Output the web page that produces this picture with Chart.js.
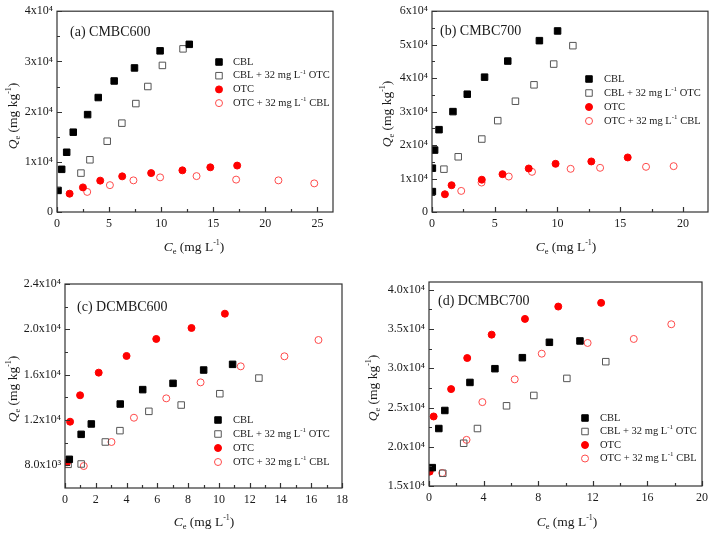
<!DOCTYPE html>
<html><head><meta charset="utf-8">
<script src="https://cdn.jsdelivr.net/npm/chart.js@4.4.1/dist/chart.umd.min.js"></script>
<style>
html,body{margin:0;padding:0;background:#fff;}
body{width:713px;height:534px;position:relative;overflow:hidden;font-family:"Liberation Serif","Times New Roman",serif;color:#1a1a1a;}
canvas{position:absolute;}
.t{position:absolute;font-size:13.5px;white-space:nowrap;line-height:1;}
.yt{transform:translate(-50%,-50%) rotate(-90deg);}
.xt{transform:translate(-50%,-50%);}
.pl{transform:translate(0,-50%);font-size:14px;}
sup{font-size:8px;vertical-align:6px;line-height:0;}
sub{font-size:8.5px;vertical-align:-3px;line-height:0;}
</style>
</head><body>
<canvas id="ca" width="356" height="267" style="left:0;top:0;width:356px;height:267px"></canvas>
<canvas id="cb" width="357" height="267" style="left:356px;top:0;width:357px;height:267px"></canvas>
<canvas id="cc" width="356" height="267" style="left:0;top:267px;width:356px;height:267px"></canvas>
<canvas id="cd" width="357" height="267" style="left:356px;top:267px;width:357px;height:267px"></canvas>

<div class="t pl" style="left:70px;top:32px">(a) CMBC600</div>
<div class="t pl" style="left:440px;top:31px">(b) CMBC700</div>
<div class="t pl" style="left:77px;top:307px">(c) DCMBC600</div>
<div class="t pl" style="left:438px;top:301px">(d) DCMBC700</div>

<div class="t yt" style="left:13px;top:116px"><i>Q</i><sub>e</sub> (mg kg<sup>-1</sup>)</div>
<div class="t yt" style="left:387px;top:114px"><i>Q</i><sub>e</sub> (mg kg<sup>-1</sup>)</div>
<div class="t yt" style="left:13px;top:389px"><i>Q</i><sub>e</sub> (mg kg<sup>-1</sup>)</div>
<div class="t yt" style="left:373px;top:388px"><i>Q</i><sub>e</sub> (mg kg<sup>-1</sup>)</div>

<div class="t xt" style="left:194px;top:247px"><i>C</i><sub>e</sub> (mg L<sup>-1</sup>)</div>
<div class="t xt" style="left:566px;top:247px"><i>C</i><sub>e</sub> (mg L<sup>-1</sup>)</div>
<div class="t xt" style="left:204px;top:522px"><i>C</i><sub>e</sub> (mg L<sup>-1</sup>)</div>
<div class="t xt" style="left:567px;top:522px"><i>C</i><sub>e</sub> (mg L<sup>-1</sup>)</div>

<script>
// ---------- series labels ----------
const seriesLabels = ['CBL', 'CBL + 32 mg L^{-1} OTC', 'OTC', 'OTC + 32 mg L^{-1} CBL'];

// ---------- (a) CMBC600 : [Ce, Qe] ----------
const aCBL = [[0.1,4300],[0.45,8500],[0.93,11900],[1.56,15900],[2.94,19400],[3.96,22800],[5.49,26100],[7.44,28700],[9.9,32100],[12.7,33400]];
const aCBLOTC = [[2.3,7750],[3.16,10400],[4.82,14100],[6.23,17700],[7.57,21600],[8.72,25000],[10.12,29200],[12.1,32500]];
const aOTC = [[1.21,3650],[2.49,4900],[4.15,6250],[6.26,7100],[9.04,7750],[12.04,8300],[14.72,8900],[17.3,9250]];
const aOTCCBL = [[2.9,4000],[5.08,5350],[7.34,6300],[9.9,6900],[13.4,7150],[17.2,6450],[21.26,6300],[24.7,5700]];
const aXTicks = [0,5,10,15,20,25];
const aYTicks = [0,10000,20000,30000,40000];
const aYTickLabels = ['0','1x10\u2074','2x10\u2074','3x10\u2074','4x10\u2074'];

// ---------- (b) CMBC700 ----------
const bCBL = [[0.03,6100],[0.03,13100],[0.21,18500],[0.56,24600],[1.67,30000],[2.81,35200],[4.19,40300],[6.04,45100],[8.56,51200],[10.01,54100]];
const bCBLOTC = [[0.95,12800],[2.09,16500],[3.97,21800],[5.24,27300],[6.65,33100],[8.13,38000],[9.7,44200],[11.23,49700]];
const bOTC = [[1.03,5300],[1.56,8000],[3.97,9650],[5.62,11300],[7.71,13000],[9.85,14400],[12.7,15100],[15.6,16300]];
const bOTCCBL = [[2.33,6300],[3.95,8800],[6.12,10600],[7.97,12000],[11.05,12900],[13.4,13200],[17.06,13500],[19.26,13700]];
const bXTicks = [0,5,10,15,20];
const bYTicks = [0,10000,20000,30000,40000,50000,60000];
const bYTickLabels = ['0','1x10\u2074','2x10\u2074','3x10\u2074','4x10\u2074','5x10\u2074','6x10\u2074'];

// ---------- (c) DCMBC600 ----------
const cCBL = [[0.28,8530],[1.05,10735],[1.71,11650],[3.59,13410],[5.05,14680],[7.02,15235],[9.01,16410],[10.89,16910]];
const cCBLOTC = [[0.2,8090],[1.05,8120],[2.62,10060],[3.57,11060],[5.45,12765],[7.55,13320],[10.06,14320],[12.6,15700]];
const cOTC = [[0.13,8265],[0.33,11850],[0.98,14180],[2.19,16180],[4.0,17650],[5.93,19150],[8.22,20120],[10.39,21380]];
const cOTCCBL = [[1.22,7940],[3.02,10060],[4.48,12200],[6.58,13910],[8.81,15320],[11.42,16735],[14.26,17620],[16.47,19060]];
const cXTicks = [0,2,4,6,8,10,12,14,16,18];
const cYTicks = [8000,12000,16000,20000,24000];
const cYTickLabels = ['8.0x10\u00b3','1.2x10\u2074','1.6x10\u2074','2.0x10\u2074','2.4x10\u2074'];

// ---------- (d) DCMBC700 ----------
const dCBL = [[0.24,17340],[0.72,22325],[1.16,24625],[3.0,28200],[4.83,29950],[6.84,31355],[8.82,33315],[11.06,33485]];
const dCBLOTC = [[1.01,16620],[2.54,20450],[3.55,22325],[5.68,25220],[7.68,26540],[10.1,28715],[12.95,30845]];
const dOTC = [[0.05,16830],[0.34,23860],[1.62,27350],[2.8,31310],[4.59,34290],[7.03,36295],[9.47,37870],[12.61,38340]];
const dOTCCBL = [[0.97,16660],[2.75,20880],[3.91,25690],[6.28,28590],[8.26,31865],[11.62,33230],[15.0,33740],[17.75,35615]];
const dXTicks = [0,4,8,12,16,20];
const dYTicks = [15000,20000,25000,30000,35000,40000];
const dYTickLabels = ['1.5x10\u2074','2.0x10\u2074','2.5x10\u2074','3.0x10\u2074','3.5x10\u2074','4.0x10\u2074'];

// ---------- styles ----------
const styles = [
  {pointStyle:'rect', backgroundColor:'#000', borderColor:'#000', borderWidth:1, radius:4.6},
  {pointStyle:'rect', backgroundColor:'rgba(0,0,0,0)', borderColor:'#555', borderWidth:1, radius:4.6},
  {pointStyle:'circle', backgroundColor:'#ff0000', borderColor:'#ff0000', borderWidth:1, radius:3.5},
  {pointStyle:'circle', backgroundColor:'rgba(0,0,0,0)', borderColor:'#ff4a4a', borderWidth:1, radius:3.5}
];
const FONT = '"Liberation Serif","Times New Roman",serif';

function drawMarker(ctx, st, x, y){
  ctx.save();
  ctx.lineWidth = st.borderWidth;
  ctx.strokeStyle = st.borderColor;
  ctx.fillStyle = st.backgroundColor;
  ctx.beginPath();
  if (st.pointStyle === 'rect') {
    const s = st.radius * Math.SQRT1_2;
    ctx.rect(x - s, y - s, 2*s, 2*s);
  } else {
    ctx.arc(x, y, st.radius, 0, Math.PI*2);
  }
  ctx.fill(); ctx.stroke();
  ctx.restore();
}
function drawRich(ctx, text, x, y, size){
  const parts = text.split(/\^\{([^}]*)\}/);
  let cx = x;
  parts.forEach((p, i) => {
    if (!p) return;
    const sup = i % 2 === 1;
    ctx.font = (sup ? Math.round(size*0.62) : size) + 'px ' + FONT;
    ctx.fillText(p, cx, sup ? y - size*0.38 : y);
    cx += ctx.measureText(p).width;
  });
}
function midpoints(ticks, min, max){
  const out = [];
  const step = ticks[1] - ticks[0];
  const vals = [ticks[0] - step/2, ...ticks.map(v => v + step/2)];
  vals.forEach(v => { if (v > min + 1e-9 && v < max - 1e-9) out.push(v); });
  return out;
}

const framePlugin = {
  id: 'frame',
  afterDraw(chart, args, o) {
    const {ctx, chartArea: a, scales} = chart;
    ctx.save();
    ctx.strokeStyle = '#333';
    ctx.lineWidth = 1.2;
    ctx.beginPath();
    o.xTicks.forEach(v => { const px = Math.round(scales.x.getPixelForValue(v)) + 0.5; ctx.moveTo(px, a.bottom); ctx.lineTo(px, a.bottom - 5); });
    midpoints(o.xTicks, scales.x.min, scales.x.max).forEach(v => { const px = Math.round(scales.x.getPixelForValue(v)) + 0.5; ctx.moveTo(px, a.bottom); ctx.lineTo(px, a.bottom - 3); });
    o.yTicks.forEach(v => { const py = Math.round(scales.y.getPixelForValue(v)) + 0.5; ctx.moveTo(a.left, py); ctx.lineTo(a.left + 5, py); });
    midpoints(o.yTicks, scales.y.min, scales.y.max).forEach(v => { const py = Math.round(scales.y.getPixelForValue(v)) + 0.5; ctx.moveTo(a.left, py); ctx.lineTo(a.left + 3, py); });
    ctx.stroke();
    ctx.strokeRect(a.left, a.top, a.right - a.left, a.bottom - a.top);
    const L = o.legend;
    ctx.textBaseline = 'middle';
    ctx.textAlign = 'left';
    chart.data.datasets.forEach((ds, i) => {
      const y = L.y + i * L.dy;
      drawMarker(ctx, styles[i], L.mx, y);
      ctx.fillStyle = '#1a1a1a';
      drawRich(ctx, ds.label, L.tx, y, 10.5);
    });
    ctx.restore();
  }
};

function makePanel(id, cv, area, xr, yr, xTicks, yTicks, yLabels, series, legend){
  const w = cv.w, h = cv.h;
  const datasets = series.map((s, i) => ({
    label: seriesLabels[i],
    data: s.map(p => ({x: p[0], y: p[1]})),
    pointStyle: styles[i].pointStyle,
    pointRadius: styles[i].radius,
    pointHoverRadius: styles[i].radius,
    backgroundColor: styles[i].backgroundColor,
    borderColor: styles[i].borderColor,
    pointBorderWidth: styles[i].borderWidth,
    showLine: false,
    clip: 0
  }));
  new Chart(document.getElementById(id), {
    type: 'scatter',
    data: {datasets},
    options: {
      responsive: false, animation: false, devicePixelRatio: 1,
      events: [],
      layout: {autoPadding: false, padding: {left: 0, bottom: 0, top: area.top - cv.y, right: w - (area.right - cv.x)}},
      plugins: {legend: {display: false}, tooltip: {enabled: false},
        frame: {xTicks, yTicks, legend: {mx: legend.mx - cv.x, tx: legend.tx - cv.x, y: legend.y - cv.y, dy: legend.dy}}},
      scales: {
        x: {type: 'linear', min: xr[0], max: xr[1],
          grid: {display: false, drawTicks: false}, border: {display: false},
          afterBuildTicks: s => { s.ticks = xTicks.map(v => ({value: v})); },
          afterFit: s => { s.height = h - (area.bottom - cv.y); },
          ticks: {padding: 5, color: '#1a1a1a', font: {family: FONT, size: 12}, maxRotation: 0, autoSkip: false,
                  callback: v => String(v)}},
        y: {type: 'linear', min: yr[0], max: yr[1],
          grid: {display: false, drawTicks: false}, border: {display: false},
          afterBuildTicks: s => { s.ticks = yTicks.map(v => ({value: v})); },
          afterFit: s => { s.width = area.left - cv.x; },
          ticks: {padding: 4, color: '#1a1a1a', font: {family: FONT, size: 12}, autoSkip: false,
                  callback: v => yLabels[yTicks.indexOf(v)]}}
      }
    },
    plugins: [framePlugin]
  });
}

makePanel('ca', {x:0, y:0, w:356, h:267}, {left:57, top:7, right:333, bottom:212},
  [0, 26.5], [0, 40000], aXTicks, aYTicks, aYTickLabels,
  [aCBL, aCBLOTC, aOTC, aOTCCBL], {mx:219, tx:233, y:62, dy:13.7});
makePanel('cb', {x:356, y:0, w:357, h:267}, {left:432, top:8, right:708, bottom:212},
  [0, 22], [0, 60000], bXTicks, bYTicks, bYTickLabels,
  [bCBL, bCBLOTC, bOTC, bOTCCBL], {mx:589, tx:604, y:79, dy:14});
makePanel('cc', {x:0, y:267, w:356, h:267}, {left:65, top:284, right:342, bottom:488},
  [0, 18], [6000, 24000], cXTicks, cYTicks, cYTickLabels,
  [cCBL, cCBLOTC, cOTC, cOTCCBL], {mx:218, tx:233, y:420, dy:14});
makePanel('cd', {x:356, y:267, w:357, h:267}, {left:429, top:282, right:704, bottom:486},
  [0, 20], [15000, 41000], dXTicks, dYTicks, dYTickLabels,
  [dCBL, dCBLOTC, dOTC, dOTCCBL], {mx:585, tx:600, y:418, dy:13.5});
</script>
</body></html>
